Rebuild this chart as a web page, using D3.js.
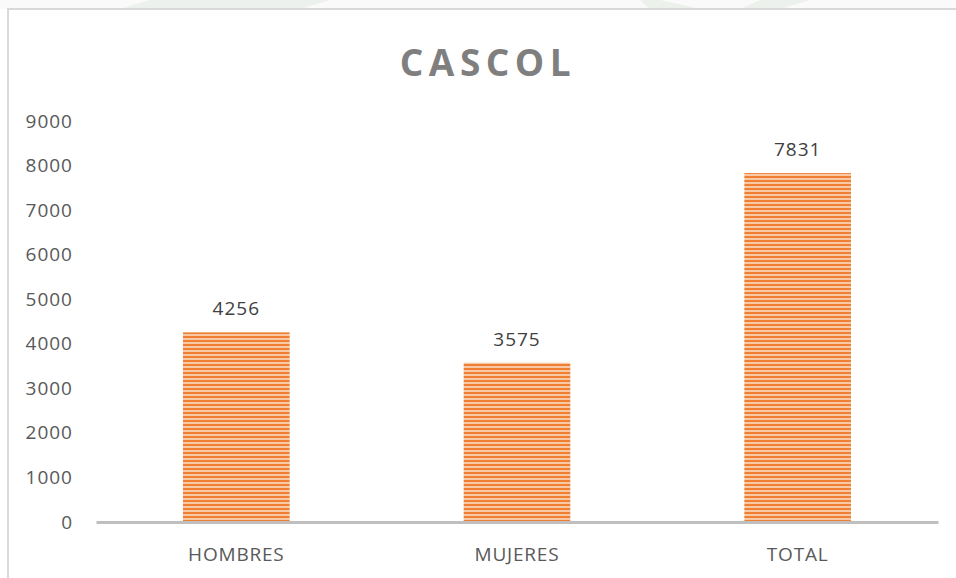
<!DOCTYPE html>
<html>
<head>
<meta charset="utf-8">
<script src="https://cdn.jsdelivr.net/npm/d3@7"></script>
<style>
  html, body { margin: 0; padding: 0; background: #fff; }
  svg { display: block; }
</style>
</head>
<body>
<svg id="chart" width="956" height="578"></svg>
<script>
// Data
const categories = ["HOMBRES", "MUJERES", "TOTAL"];
const values = [4256, 3575, 7831];
const yTicks = [0, 1000, 2000, 3000, 4000, 5000, 6000, 7000, 8000, 9000];
const titleText = "CASCOL";

const svg = d3.select("#chart");
const W = 956, H = 578;
const FONT = "'Open Sans', sans-serif";

// faint band above the chart frame
svg.append("rect").attr("x", 0).attr("y", 0).attr("width", W).attr("height", 9).attr("fill", "#f9faf9");
const wm = svg.append("g").attr("fill", "#e9efea").attr("opacity", 0.8);
wm.append("path").attr("d", "M150,0 L330,0 L300,9 L120,9 Z");
wm.append("path").attr("d", "M640,0 L660,0 L700,9 L650,9 Z");
wm.append("path").attr("d", "M760,0 L810,0 L780,9 L740,9 Z");

// chart area background + frame
svg.append("rect").attr("x", 8).attr("y", 9).attr("width", W - 8).attr("height", H - 9).attr("fill", "#fff");
svg.append("line").attr("x1", 7).attr("x2", W).attr("y1", 9).attr("y2", 9)
  .attr("stroke", "#d9d9d9").attr("stroke-width", 2);
svg.append("line").attr("x1", 8).attr("x2", 8).attr("y1", 9).attr("y2", H)
  .attr("stroke", "#d9d9d9").attr("stroke-width", 2);

// striped fill for the bars
const defs = svg.append("defs");
const pat = defs.append("pattern").attr("id", "stripes")
  .attr("patternUnits", "userSpaceOnUse").attr("width", 8).attr("height", 4);
pat.append("rect").attr("width", 8).attr("height", 4).attr("fill", "#f9c9a6");
pat.append("rect").attr("width", 8).attr("height", 2).attr("fill", "#ee7f33");

const x = d3.scaleBand().domain(categories).range([96, 938]).paddingInner(0.62).paddingOuter(0.31);
const y = d3.scaleLinear().domain([0, 9000]).range([522, 121]);

// Title
svg.append("text").attr("x", 488).attr("y", 76)
  .attr("text-anchor", "middle")
  .attr("font-family", FONT).attr("font-weight", "bold")
  .attr("font-size", 37).attr("letter-spacing", 5.5)
  .attr("fill", "#7f7f7f").text(titleText);

// Y tick labels
const yAxis = d3.axisLeft(y).tickValues(yTicks).tickFormat(d3.format("d")).tickSize(0).tickPadding(0);
const yg = svg.append("g").attr("transform", "translate(73,0)").call(yAxis);
yg.select(".domain").remove();
yg.selectAll("text").attr("font-family", FONT)
  .attr("font-size", 19).attr("letter-spacing", 1).attr("fill", "#595959");

// Bars
svg.append("g").selectAll("rect").data(values).join("rect")
  .attr("x", (d, i) => x(categories[i]))
  .attr("y", d => y(d))
  .attr("width", x.bandwidth())
  .attr("height", d => y(0) - y(d))
  .attr("fill", "url(#stripes)");

// Value labels
svg.append("g").selectAll("text").data(values).join("text")
  .attr("x", (d, i) => x(categories[i]) + x.bandwidth() / 2)
  .attr("y", d => y(d) - 17)
  .attr("text-anchor", "middle")
  .attr("font-family", FONT).attr("font-size", 19).attr("letter-spacing", 1)
  .attr("fill", "#404040").text(d => d);

// X axis
const xAxis = d3.axisBottom(x).tickSize(0).tickPadding(26);
const xg = svg.append("g").attr("transform", `translate(0,${y(0)})`).call(xAxis);
xg.select(".domain").attr("stroke", "#bfbfbf").attr("stroke-width", 3);
xg.selectAll("text").attr("font-family", FONT)
  .attr("font-size", 19).attr("letter-spacing", 0.8).attr("fill", "#595959");
</script>
</body>
</html>
